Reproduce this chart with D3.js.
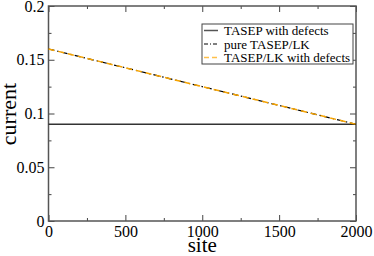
<!DOCTYPE html>
<html>
<head>
<meta charset="utf-8">
<script src="https://cdn.jsdelivr.net/npm/d3@7"></script>
<style>
  body { margin: 0; background: #fff; }
  svg { display: block; }
  text { font-family: "Liberation Serif", "Times New Roman", serif !important; fill: #000; }
  .tick text { font-size: 16px; }
  .axis line { stroke: #444; stroke-width: 1; }
</style>
</head>
<body>
<div id="chart"></div>
<script>
// data
const sites = [0, 500, 1000, 1500, 2000];
const tasepDefects = [0.09, 0.09, 0.09, 0.09, 0.09];
const pureTasepLK = [0.16, 0.1425, 0.125, 0.1075, 0.09];
const tasepLKDefects = [0.16, 0.1425, 0.125, 0.1075, 0.09];

const xTicks = [0, 500, 1000, 1500, 2000];
const xMinorTicks = [250, 750, 1250, 1750];
const yTicks = [0, 0.05, 0.1, 0.15, 0.2];
const yTickLabels = ["0", "0.05", "0.1", "0.15", "0.2"];
const yMinorTicks = [0.025, 0.075, 0.125, 0.175];

const seriesNames = ["TASEP with defects", "pure TASEP/LK", "TASEP/LK with defects"];

const width = 374, height = 256;
const margin = {top: 6, right: 18, bottom: 35, left: 48.5};
const innerW = width - margin.left - margin.right;
const innerH = height - margin.top - margin.bottom;

const svg = d3.select('#chart').append('svg')
    .attr('width', width)
    .attr('height', height);

const g = svg.append('g')
    .attr('transform', `translate(${margin.left},${margin.top})`);

const x = d3.scaleLinear().domain([0, 2000]).range([0, innerW]);
const y = d3.scaleLinear().domain([0, 0.2]).range([innerH, 0]);

// axes: ticks point inward, mirrored on top and right
function addAxis(axis, transform, showLabels) {
    const a = g.append('g')
        .attr('class', 'axis')
        .attr('transform', transform)
        .call(axis)
        .attr('font-family', null)
        .attr('font-size', null);
    a.select('.domain').remove();
    if (!showLabels) a.selectAll('text').remove();
    return a;
}

addAxis(d3.axisBottom(x).tickValues(xTicks).tickSize(-6).tickSizeOuter(0).tickPadding(5)
    .tickFormat(d3.format('d')), `translate(0,${innerH})`, true);
addAxis(d3.axisBottom(x).tickValues(xMinorTicks).tickSize(-3).tickSizeOuter(0),
    `translate(0,${innerH})`, false);
addAxis(d3.axisTop(x).tickValues(xTicks).tickSize(-6).tickSizeOuter(0), 'translate(0,0)', false);
addAxis(d3.axisTop(x).tickValues(xMinorTicks).tickSize(-3).tickSizeOuter(0), 'translate(0,0)', false);

addAxis(d3.axisLeft(y).tickValues(yTicks).tickSize(-6).tickSizeOuter(0).tickPadding(4)
    .tickFormat((d, i) => yTickLabels[i]), 'translate(0,0)', true);
addAxis(d3.axisLeft(y).tickValues(yMinorTicks).tickSize(-3).tickSizeOuter(0), 'translate(0,0)', false);
addAxis(d3.axisRight(y).tickValues(yTicks).tickSize(-6).tickSizeOuter(0), `translate(${innerW},0)`, false);
addAxis(d3.axisRight(y).tickValues(yMinorTicks).tickSize(-3).tickSizeOuter(0), `translate(${innerW},0)`, false);

// frame
g.append('rect')
    .attr('x', 0).attr('y', 0)
    .attr('width', innerW).attr('height', innerH)
    .attr('fill', 'none')
    .attr('stroke', '#555')
    .attr('stroke-width', 1.5);

// lines
const line = vals => d3.line()
    .x((d, i) => x(sites[i]))
    .y(d => y(d))(vals);

g.append('path')
    .attr('d', line(tasepDefects))
    .attr('fill', 'none')
    .attr('stroke', '#333')
    .attr('stroke-width', 1.5);

g.append('path')
    .attr('d', line(pureTasepLK))
    .attr('fill', 'none')
    .attr('stroke', '#000')
    .attr('stroke-width', 1.2)
    .attr('stroke-dasharray', '6,3,1.5,3');

g.append('path')
    .attr('d', line(tasepLKDefects))
    .attr('fill', 'none')
    .attr('stroke', '#f6a300')
    .attr('stroke-width', 1.5)
    .attr('stroke-dasharray', '6,4');

// axis titles
svg.append('text')
    .attr('x', margin.left + innerW / 2)
    .attr('y', 252)
    .attr('text-anchor', 'middle')
    .style('font-size', '21px')
    .text('site');

svg.append('text')
    .attr('transform', `translate(16,${margin.top + 108}) rotate(-90)`)
    .attr('text-anchor', 'middle')
    .style('font-size', '22px')
    .text('current');

// legend
const legend = svg.append('g').attr('transform', 'translate(202,24)');
legend.append('rect')
    .attr('width', 151).attr('height', 40)
    .attr('fill', '#fff')
    .attr('stroke', '#444')
    .attr('stroke-width', 1);

const legendStyles = [
    {stroke: '#555', dash: null, w: 1.5},
    {stroke: '#000', dash: '4,2,1,2', w: 1},
    {stroke: '#ffc04a', dash: '5,3', w: 1.5}
];

seriesNames.forEach((name, i) => {
    const cy = 6.5 + i * 13.5;
    legend.append('line')
        .attr('x1', 2).attr('x2', 16)
        .attr('y1', cy).attr('y2', cy)
        .attr('stroke', legendStyles[i].stroke)
        .attr('stroke-width', legendStyles[i].w)
        .attr('stroke-dasharray', legendStyles[i].dash);
    legend.append('text')
        .attr('x', 22)
        .attr('y', cy + 4.5)
        .style('font-size', '13px')
        .text(name);
});
</script>
</body>
</html>
